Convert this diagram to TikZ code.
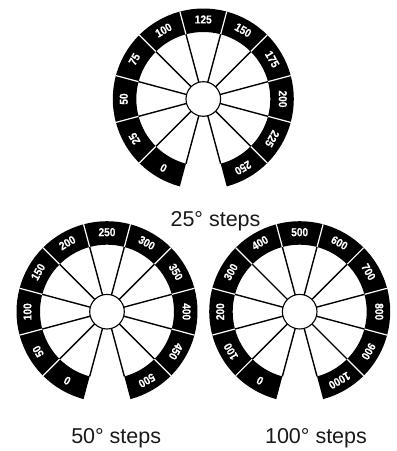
\documentclass[tikz,border=0pt]{standalone}
\usepackage{fontspec}
\setmainfont{Liberation Sans}
\newfontfamily\dialfont[FakeStretch=0.88,FakeBold=0.4]{Liberation Sans Bold}
\newcommand{\dial}[4]{%
  \begin{scope}[shift={(#1,#2)}]
  \foreach \lbl [count=\i from 0] in {#4} {
    \pgfmathsetmacro{\mid}{240-30*\i}
    \pgfmathsetmacro{\rot}{\mid-90}
    \fill[black] (\mid-15:\ringr) arc[start angle=\mid-15, end angle=\mid+15, radius=\ringr]
      -- (\mid+15:\outr) arc[start angle=\mid+15, end angle=\mid-15, radius=\outr] -- cycle;
    \node[dialnum, rotate=\rot] (#3-\i) at (\mid:\numr) {\lbl};
  }
  % ring cuts and spokes
  \foreach \a in {-45,-15,15,45,75,105,135,165,195,225}
    \draw[white, line width=1.2pt] (\a:\ringr) -- (\a:\outr);
  \foreach \a in {-75,-45,-15,15,45,75,105,135,165,195,225,255}
    \draw[spoke] (\a:\hubr) -- (\a:\ringr);
  \node[hub] (#3-hub) at (0,0) {};
  \end{scope}}
\begin{document}
\begin{tikzpicture}[x=1pt, y=1pt,
  dialnum/.style={text=white, inner sep=0pt, font=\dialfont\fontsize{11.5}{12}\selectfont},
  spoke/.style={black, line width=1.4pt},
  hub/.style={circle, draw=black, fill=white, line width=1.1pt, minimum size=34.6pt, inner sep=0pt},
  steps/.style={inner sep=0pt, anchor=base, text=black!90, font=\fontsize{21.5}{24}\selectfont}]
\def\outr{90.5}
\def\ringr{67}
\def\hubr{17.3}
\def\numr{79.5}
\useasboundingbox (0,0) rectangle (397,451);

\dial{203.3}{352}{upper}{0,25,50,75,100,125,150,175,200,225,250}
\dial{107}{139.3}{left}{0,50,100,150,200,250,300,350,400,450,500}
\dial{299.7}{139.3}{right}{0,100,200,300,400,500,600,700,800,900,1000}

\node[steps] (stepsa) at (215.5,224) {25° steps};
\node[steps] (stepsb) at (116.2,7) {50° steps};
\node[steps] (stepsc) at (316,7) {100° steps};
\end{tikzpicture}
\end{document}
